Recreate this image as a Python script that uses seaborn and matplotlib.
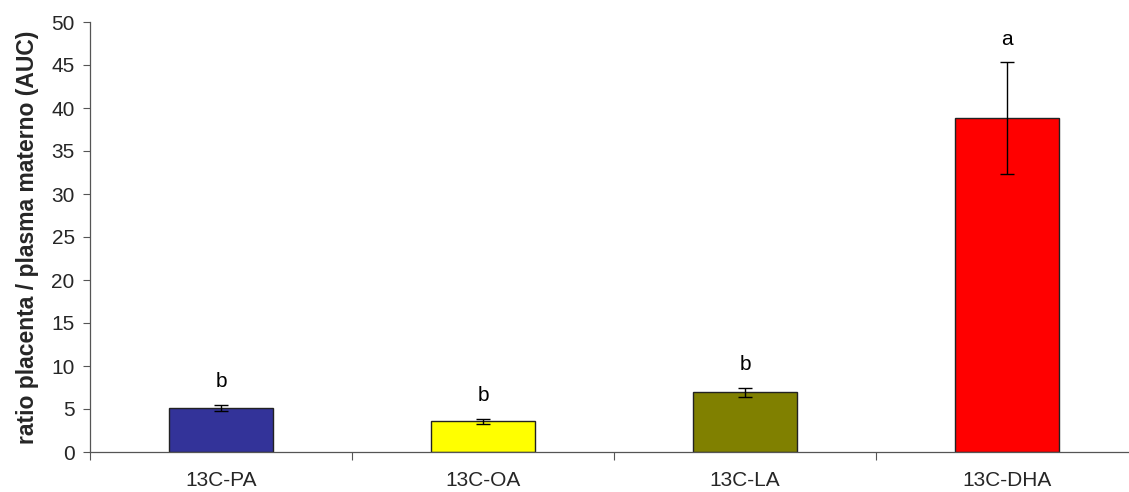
import matplotlib
matplotlib.use("Agg")
import matplotlib.pyplot as plt
import seaborn as sns
import pandas as pd
import numpy as np
from matplotlib.ticker import MultipleLocator, FixedLocator

# Placenta / maternal plasma AUC ratio per labelled fatty acid
categories = ["13C-PA", "13C-OA", "13C-LA", "13C-DHA"]
ratio_mean = [5.1, 3.55, 6.95, 38.8]
ratio_err = [0.35, 0.27, 0.5, 6.5]
letters = ["b", "b", "b", "a"]
bar_colors = ["#333399", "#FFFF00", "#808000", "#FF0000"]

sns.set_theme(style="white")
plt.rcParams["font.family"] = ["Liberation Sans", "DejaVu Sans"]

df = pd.DataFrame({"acid": categories, "ratio": ratio_mean})

fig = plt.figure(figsize=(11.29, 4.92), dpi=100)
ax = fig.add_axes([90 / 1129, 40 / 492, 1 - 90 / 1129, (452 - 22) / 492])

sns.barplot(data=df, x="acid", y="ratio", hue="acid", palette=bar_colors,
            order=categories, hue_order=categories, legend=False,
            errorbar=None, width=0.40, edgecolor="#222222", linewidth=1.0,
            saturation=1.0, ax=ax)

xpos = np.arange(len(categories))
ax.errorbar(xpos, ratio_mean, yerr=ratio_err, fmt="none", ecolor="black",
            elinewidth=1.0, capsize=5, capthick=1.0, zorder=5)

for x, m, e, lab in zip(xpos, ratio_mean, ratio_err, letters):
    ax.annotate(lab, (x, m + e), xytext=(0, 10), textcoords="offset points",
                ha="center", va="bottom", fontsize=15, color="black")

ax.set_ylim(0, 50)
ax.set_xlim(-0.5, 3.5 - 9 / 262)
ax.yaxis.set_major_locator(MultipleLocator(5))
ax.set_ylabel("ratio placenta / plasma materno (AUC)", fontsize=16.5,
              fontweight="bold", labelpad=9)
ax.set_xlabel("")

# category separators on the x axis, labels centred under each bar
ax.xaxis.set_minor_locator(FixedLocator(np.arange(-0.5, len(categories), 1.0)))
ax.tick_params(axis="x", which="major", length=0, pad=14, labelsize=15)
ax.tick_params(axis="x", which="minor", length=6, width=0.8, color="#555555",
               direction="out", bottom=True)
ax.tick_params(axis="y", which="major", length=5, width=0.8, color="#555555",
               direction="out", left=True, labelsize=15, pad=6)

for side in ["top", "right"]:
    ax.spines[side].set_visible(False)
for side in ["left", "bottom"]:
    ax.spines[side].set_color("#555555")
    ax.spines[side].set_linewidth(0.9)

fig.savefig("out.png", dpi=100)
